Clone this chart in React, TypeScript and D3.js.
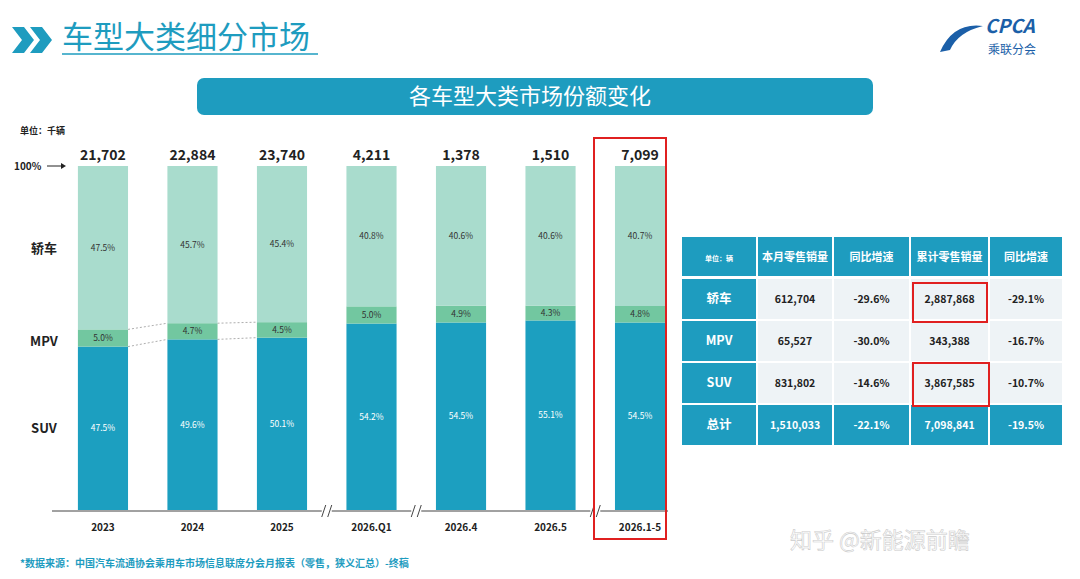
import React from "react";
import * as d3 from "d3";

const categories = ["2023", "2024", "2025", "2026.Q1", "2026.4", "2026.5", "2026.1-5"];
const totals = ["21,702", "22,884", "23,740", "4,211", "1,378", "1,510", "7,099"];
const suvShare = [47.5, 49.6, 50.1, 54.2, 54.5, 55.1, 54.5];
const mpvShare = [5.0, 4.7, 4.5, 5.0, 4.9, 4.3, 4.8];
const sedanShare = [47.5, 45.7, 45.4, 40.8, 40.6, 40.6, 40.7];
const seriesLabels = ["SUV", "MPV", "轿车"];

const tableHeader = ["单位：辆", "本月零售销量", "同比增速", "累计零售销量", "同比增速"];
const tableRows = [
  ["轿车", "612,704", "-29.6%", "2,887,868", "-29.1%"],
  ["MPV", "65,527", "-30.0%", "343,388", "-16.7%"],
  ["SUV", "831,802", "-14.6%", "3,867,585", "-10.7%"],
  ["总计", "1,510,033", "-22.1%", "7,098,841", "-19.5%"],
];

const COLORS = ["#1c9fc0", "#72c7a0", "#a9dccd"];
const TEAL = "#1e9cbf";
const FONT = "'Noto Sans CJK SC', 'Noto Sans', sans-serif";

export default function App() {
  const x = d3.scaleBand().domain(categories).range([60, 683]).paddingInner(0.44).paddingOuter(0.2);
  const y = d3.scaleLinear().domain([0, 100]).range([510, 166]);
  const rows = categories.map((c, i) => {
    const vals = [suvShare[i], mpvShare[i], sedanShare[i]];
    let acc = 0;
    return vals.map((v) => {
      const seg = { y0: acc, y1: Math.min(100, acc + v), v };
      acc += v;
      return seg;
    });
  });
  const bw = x.bandwidth();
  const colX = [681, 757, 833, 910, 989, 1063];
  const rowY = [237, 278, 320, 362, 404, 446];
  const breaks = [2, 3, 5];
  // label y positions follow the middle of the first bar's segments
  const labelY = rows[0].map((s) => (y(s.y0) + y(s.y1)) / 2 + 5);

  return (
    <svg width={1080} height={579} style={{ position: "absolute", left: 0, top: 0, background: "#fff" }} fontFamily={FONT}>
      {/* heading */}
      <path d="M12,27 L24,27 L34,40 L24,53 L12,53 L22,40 Z" fill={TEAL} />
      <path d="M30,27 L42,27 L52,40 L42,53 L30,53 L40,40 Z" fill={TEAL} />
      <text x={62} y={48} fontSize={31} fill={TEAL}>车型大类细分市场</text>
      <line x1={62} y1={54} x2={318} y2={54} stroke={TEAL} strokeWidth={1.5} />
      <path d="M940,52 Q953,22 983,26 Q958,32 950,50 Z" fill="#1b5fa8" />
      <text x={985} y={33} fontSize={19} fontWeight="bold" fontStyle="italic" fill="#1b5fa8">CPCA</text>
      <text x={988} y={54} fontSize={12} fill="#1b5fa8">乘联分会</text>

      {/* banner */}
      <rect x={197} y={78} width={676} height={37} rx={7} fill={TEAL} />
      <text x={530} y={104} fontSize={22} fill="#fff" textAnchor="middle">各车型大类市场份额变化</text>

      <text x={20} y={134} fontSize={9} fontWeight="bold" fill="#222">单位：千辆</text>
      <text x={14} y={170} fontSize={10} fontWeight="bold" fill="#222">100%</text>
      <line x1={47} y1={166} x2={64} y2={166} stroke="#222" strokeWidth={1} />
      <path d="M66,166 L61,163 L61,169 Z" fill="#222" />

      {seriesLabels.map((t, k) => (
        <text key={t} x={44} y={k === 1 ? labelY[1] + 3 : labelY[k]} fontSize={13} fontWeight="bold" fill="#222" textAnchor="middle">{t}</text>
      ))}

      {/* connectors between first bars */}
      {[0, 1].map((i) =>
        [1, 2].map((k) => (
          <line key={`${i}-${k}`} x1={x(categories[i])! + bw} y1={y(rows[i][k].y0)} x2={x(categories[i + 1])!} y2={y(rows[i + 1][k].y0)}
            stroke="#999" strokeDasharray="2,2" strokeWidth={0.8} />
        ))
      )}

      {categories.map((c, i) => (
        <g key={c}>
          {rows[i].map((s, k) => (
            <g key={k}>
              <rect x={x(c)} y={y(s.y1)} width={bw} height={y(s.y0) - y(s.y1)} fill={COLORS[k]} />
              <text x={x(c)! + bw / 2} y={(y(s.y0) + y(s.y1)) / 2 + 3} fontSize={8.5} textAnchor="middle"
                fill={k === 0 ? "#fff" : "#333"}>{s.v.toFixed(1)}%</text>
            </g>
          ))}
          <text x={x(c)! + bw / 2} y={160} fontSize={14} fontWeight="bold" textAnchor="middle" fill="#222">{totals[i]}</text>
          <text x={x(c)! + bw / 2} y={531} fontSize={10} fontWeight="bold" textAnchor="middle" fill="#222">{c}</text>
        </g>
      ))}

      <line x1={52} y1={511} x2={668} y2={511} stroke="#444" strokeWidth={1} />
      {breaks.map((i) => {
        const mx = (x(categories[i])! + bw + x(categories[i + 1])!) / 2;
        return (
          <g key={i}>
            <rect x={mx - 5} y={504} width={10} height={14} fill="#fff" />
            <line x1={mx - 5} y1={517} x2={mx - 1} y2={505} stroke="#444" />
            <line x1={mx + 1} y1={517} x2={mx + 5} y2={505} stroke="#444" />
          </g>
        );
      })}
      <rect x={594} y={138} width={72} height={401} fill="none" stroke="#e02020" strokeWidth={2} />

      {/* table */}
      {tableHeader.map((h, j) => (
        <g key={h + j}>
          <rect x={colX[j] + 1} y={rowY[0]} width={colX[j + 1] - colX[j] - 2} height={rowY[1] - rowY[0] - 2} fill={TEAL} />
          <text x={(colX[j] + colX[j + 1]) / 2} y={(rowY[0] + rowY[1]) / 2 + 3} fontSize={j === 0 ? 7 : 11} fontWeight="bold"
            fill="#fff" textAnchor="middle">{h}</text>
        </g>
      ))}
      {tableRows.map((r, i) =>
        r.map((cell, j) => {
          const isTotal = i === 3;
          const bg = j === 0 || isTotal ? TEAL : "#eef3f6";
          return (
            <g key={`${i}-${j}`}>
              <rect x={colX[j] + 1} y={rowY[i + 1] + 1} width={colX[j + 1] - colX[j] - 2} height={rowY[i + 2] - rowY[i + 1] - 2} fill={bg} />
              <text x={(colX[j] + colX[j + 1]) / 2} y={(rowY[i + 1] + rowY[i + 2]) / 2 + 4} fontSize={j === 0 ? 12.5 : 10.5}
                fontWeight="bold" fill={j === 0 || isTotal ? "#fff" : "#222"} textAnchor="middle">{cell}</text>
            </g>
          );
        })
      )}
      <rect x={913} y={283} width={74} height={39} fill="none" stroke="#e02020" strokeWidth={2} />
      <rect x={913} y={363} width={76} height={43} fill="none" stroke="#e02020" strokeWidth={2} />

      <text x={20} y={567} fontSize={10} fontWeight="bold" fill={TEAL}>*数据来源：中国汽车流通协会乘用车市场信息联席分会月报表（零售，狭义汇总）-终稿</text>
      <text x={790} y={548} fontSize={22} fill="#fff" stroke="#ccc" strokeWidth={0.6}>知乎 @新能源前瞻</text>
    </svg>
  );
}
